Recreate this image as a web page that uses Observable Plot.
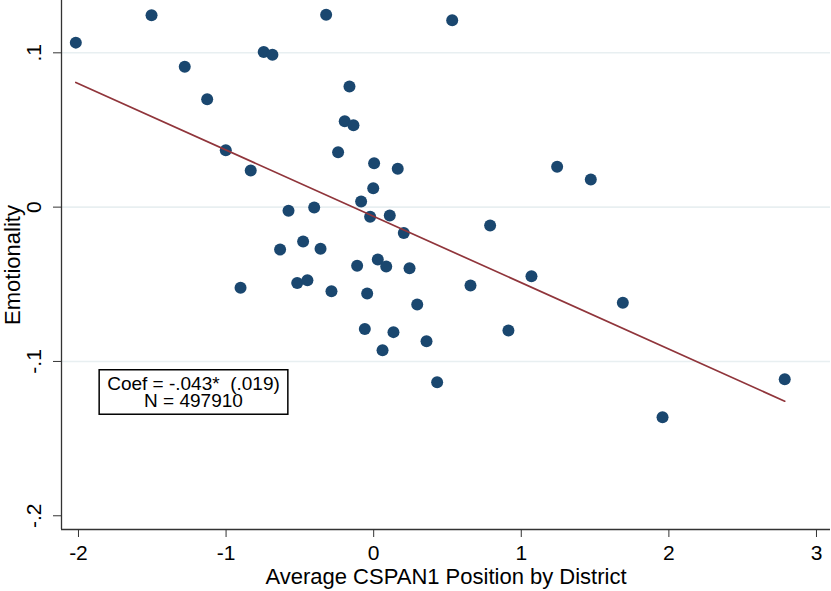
<!DOCTYPE html>
<html>
<head>
<meta charset="utf-8">
<script src="https://cdn.jsdelivr.net/npm/d3@7"></script>
<script src="https://cdn.jsdelivr.net/npm/@observablehq/plot@0.6"></script>
<style>
  html, body { margin: 0; padding: 0; background: #fff; }
  #chart { width: 831px; height: 591px; }
</style>
</head>
<body>
<div id="chart"></div>
<script>
// Average CSPAN1 position of each district and its mean emotionality score
const position = [
  -2.018, -1.505, -1.280, -1.128, -1.002, -0.902, -0.833, -0.745, -0.686, -0.634,
  -0.577, -0.518, -0.478, -0.449, -0.403, -0.360, -0.322, -0.286, -0.241, -0.196,
  -0.164, -0.137, -0.112, -0.085, -0.060, -0.044, -0.024, -0.003, 0.003, 0.028,
  0.060, 0.085, 0.109, 0.134, 0.163, 0.204, 0.243, 0.295, 0.358, 0.430,
  0.532, 0.656, 0.789, 0.913, 1.069, 1.243, 1.471, 1.688, 1.957, 2.785
];
const emotionality = [
  0.1066, 0.1243, 0.0909, 0.0699, 0.0369, -0.0523, 0.0237, 0.1006, 0.0987, -0.0275,
  -0.0024, -0.0491, -0.0223, -0.0474, -0.0003, -0.0270, 0.1246, -0.0545, 0.0356, 0.0557,
  0.0781, 0.0531, -0.0380, 0.0036, -0.0789, -0.0560, -0.0063, 0.0122, 0.0284, -0.0340,
  -0.0927, -0.0385, -0.0054, -0.0810, 0.0248, -0.0167, -0.0396, -0.0631, -0.0869, -0.1135,
  0.1211, -0.0508, -0.0119, -0.0800, -0.0448, 0.0261, 0.0179, -0.0620, -0.1361, -0.1115
];

// Axis ticks and reference lines
const xTicks = [-2, -1, 0, 1, 2, 3];
const yTicks = [-0.2, -0.1, 0, 0.1];
const gridValues = [-0.1, 0, 0.1];

// Fitted line: slope is the reported coefficient
const coef = -0.043;
const intercept = -0.006;
const noteText = "Coef = -.043*\u00a0 (.019)\nN = 497910";

const xLabel = "Average CSPAN1 Position by District";
const yLabel = "Emotionality";

const xDomain = [-2.115, 3.095];
const yDomain = [-0.2089, 0.1339];

const districts = position.map((x, i) => ({x, y: emotionality[i]}));
const fit = d3.extent(position).map(x => ({x, y: intercept + coef * x}));

// Stata-style labels: ".1", "-.1", "0"
const fmtY = d => d === 0 ? "0" : String(d).replace("0.", ".");

const font = "'Liberation Sans', Arial, Helvetica, sans-serif";

const plot = Plot.plot({
  width: 831,
  height: 591,
  marginLeft: 61,
  marginRight: 1,
  marginTop: 0,
  marginBottom: 62,
  style: {fontFamily: font, background: "#fff", overflow: "visible", color: "#000"},
  x: {domain: xDomain},
  y: {domain: yDomain},
  marks: [
    Plot.ruleY(gridValues, {stroke: "#e8eff1", strokeWidth: 1.6}),
    Plot.dot(districts, {x: "x", y: "y", r: 6, fill: "#1a476f"}),
    Plot.line(fit, {x: "x", y: "y", stroke: "#90353b", strokeWidth: 1.7}),
    Plot.ruleX([xDomain[0]], {stroke: "#333", strokeWidth: 1.3}),
    Plot.ruleY([yDomain[0]], {stroke: "#333", strokeWidth: 1.3}),
    Plot.axisX({
      ticks: xTicks, tickFormat: d => String(d), tickSize: 8, tickPadding: 8,
      fontSize: 21, stroke: "#333", fill: "#000", label: null
    }),
    Plot.axisY({
      ticks: yTicks, tickFormat: fmtY, tickSize: 8, tickPadding: 13, tickRotate: -90,
      fontSize: 21, stroke: "#333", fill: "#000", label: null
    }),
    Plot.text([xLabel], {
      frameAnchor: "bottom", dy: 47, fontSize: 22, fill: "#000", text: d => d,
      textAnchor: "middle", lineAnchor: "middle"
    }),
    Plot.text([yLabel], {
      frameAnchor: "left", dx: -49, rotate: -90, fontSize: 22, fill: "#000", text: d => d,
      textAnchor: "middle", lineAnchor: "middle"
    }),
    Plot.text([noteText], {
      frameAnchor: "top-left", dx: 132, dy: 392.4, fontSize: 19, lineHeight: 0.92,
      fill: "#000", text: d => d, textAnchor: "middle", lineAnchor: "middle"
    })
  ]
});

document.getElementById("chart").appendChild(plot);

// Outline the annotation with a box around its text
const note = Array.from(plot.querySelectorAll("text"))
  .find(t => t.textContent.startsWith("Coef"));
if (note) {
  const b = note.getBBox();
  const padX = 8, padY = 3;
  const rect = document.createElementNS("http://www.w3.org/2000/svg", "rect");
  rect.setAttribute("x", b.x - padX);
  rect.setAttribute("y", b.y - padY);
  rect.setAttribute("width", b.width + 2 * padX);
  rect.setAttribute("height", b.height + 2 * padY);
  rect.setAttribute("fill", "#fff");
  rect.setAttribute("stroke", "#000");
  rect.setAttribute("stroke-width", 1.5);
  const tr = note.getAttribute("transform");
  if (tr) rect.setAttribute("transform", tr);
  note.parentNode.insertBefore(rect, note);
}
</script>
</body>
</html>
